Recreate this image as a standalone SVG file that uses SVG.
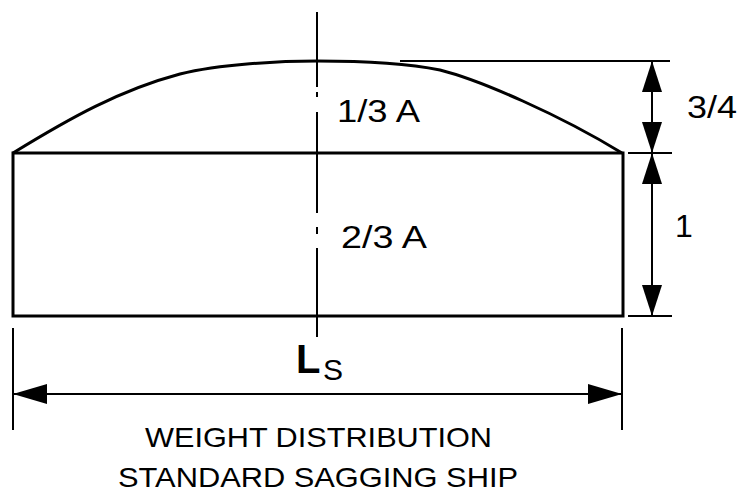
<svg xmlns="http://www.w3.org/2000/svg" width="738" height="493" viewBox="0 0 738 493">
<style>
.thick{fill:none;stroke:#000;stroke-width:3}
.thin{fill:none;stroke:#000;stroke-width:2}
.ah{fill:#000;stroke:none}
text{font-family:"Liberation Sans",Arial,sans-serif;fill:#000}
.lbl{font-size:32px}
.cap{font-size:28px}
</style>
<rect width="738" height="493" fill="#fff"/>
<g id="ship">
<rect class="thick" x="13" y="153" width="610" height="163"/>
<path class="thick" d="M13,153 C70,118 120,90 180,74 C220,64 280,61 317,61 C350,61 400,62 440,70 C480,80 560,115 622,153"/>
</g>
<g id="centerline">
<path class="thin" d="M317,12 V87 M317,92 V97 M317,112 V213 M317,227 V234 M317,248 V337"/>
</g>
<g id="connectors">
<path class="thin" d="M400,61 H670 M628,153 H672 M628,316 H672 M652,61 V316"/>
<polygon class="ah" points="652,61 642,92 662,92"/>
<polygon class="ah" points="652,153 642,122 662,122"/>
<polygon class="ah" points="652,153 642,184 662,184"/>
<polygon class="ah" points="652,316 642,285 662,285"/>
<path class="thin" d="M13,328 V430 M622,328 V430 M13,394 H622"/>
<polygon class="ah" points="13,394 47,384 47,404"/>
<polygon class="ah" points="622,394 588,384 588,404"/>
</g>
<g id="labels">
<text class="lbl" x="337" y="122" textLength="83" lengthAdjust="spacingAndGlyphs">1/3 A</text>
<text class="lbl" x="341" y="248" textLength="86" lengthAdjust="spacingAndGlyphs">2/3 A</text>
<text class="lbl" x="687" y="118" textLength="50" lengthAdjust="spacingAndGlyphs">3/4</text>
<text class="lbl" x="675" y="237">1</text>
<text x="296" y="373" font-size="40" font-weight="bold">L</text>
<text x="323" y="380" font-size="30">S</text>
<text class="cap" x="145" y="447" textLength="347" lengthAdjust="spacingAndGlyphs">WEIGHT DISTRIBUTION</text>
<text class="cap" x="118" y="487" textLength="400" lengthAdjust="spacingAndGlyphs">STANDARD SAGGING SHIP</text>
</g>
</svg>
